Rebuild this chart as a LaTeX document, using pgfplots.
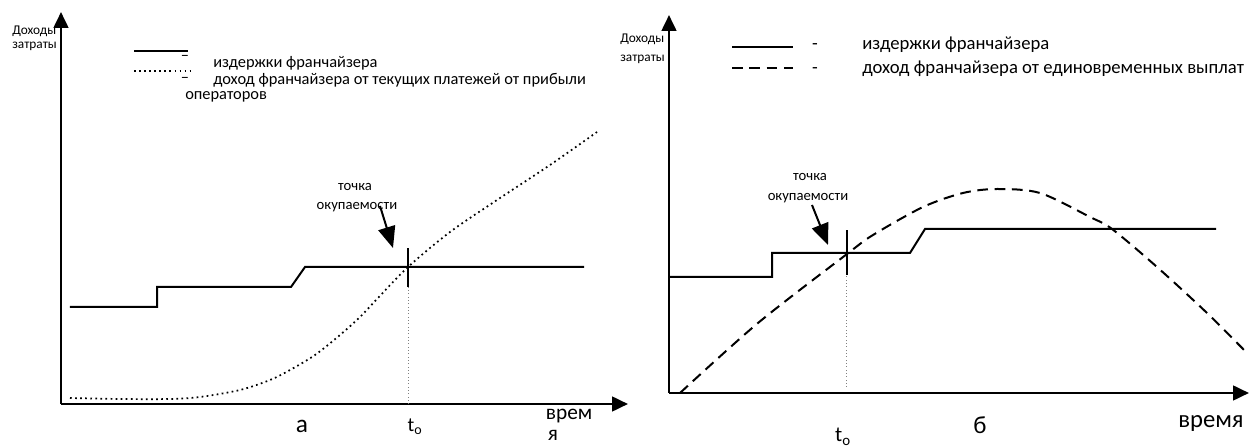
\documentclass[border=0pt]{standalone}
\usepackage{pgfplots}
\pgfplotsset{compat=1.18}
\usepackage{fontspec}
\setmainfont{Carlito}
\usetikzlibrary{arrows.meta}

\pgfplotsset{
  panel/.style={
    x=0.75pt, y=0.75pt, anchor=south west,
    axis lines=left, ticks=none, clip=false,
    enlargelimits=false,
    axis line style={line width=2pt, -{Triangle[length=12pt,width=11pt]}},
  },
  cost/.style={black, line width=1.5pt, no marks},
  guide/.style={gray, line width=0.5pt, dotted, no marks},
}
\tikzset{lt/.style={anchor=west, inner xsep=0pt}}
\newcommand{\fAx}{\fontsize{10}{12}\selectfont}
\newcommand{\fLbl}{\fontsize{11}{13}\selectfont}

\begin{document}
\begin{tikzpicture}
\useasboundingbox (0,0) rectangle (939.75pt,-336pt);

% ---- panel a ----
\begin{axis}[panel, at={(45.75pt,-303pt)}, xmin=0, xmax=567, ymin=0, ymax=392,
  font=\fontsize{12.3}{14}\selectfont]
\addplot[cost] coordinates {(9,97) (96,97) (96,117) (230,117) (244,137) (523,137)};
\addplot[black, line width=1.3pt, dash pattern=on 1.3pt off 2.5pt, smooth, no marks] coordinates {
  (9,6) (59,5) (109,5) (139,7) (179,14) (209,24) (229,34) (254,49) (279,69)
  (299,87) (317,106) (347,137) (389,172) (436,204) (489,239) (536,272)};
\addplot[guide] coordinates {(347,0) (347,117)};
\addplot[black, line width=1.5pt, no marks] coordinates {(347,117) (347,156)};
\draw[line width=1.5pt, -{Triangle[length=16pt,width=13pt]}] (319,198) -- (332,156);
\node[lt, font=\fAx] at (-49,373) {Доходы};
\node[lt, font=\fAx] at (-49,358) {затраты};
\draw[line width=1.5pt] (73,353) -- (127,353);
\node at (124,346) {–};
\node[lt] at (152,341) {издержки франчайзера};
\draw[line width=1.3pt, dash pattern=on 1.3pt off 2.5pt] (73,333) -- (129,333);
\node at (124,324) {–};
\node[lt] at (152,324) {доход франчайзера от текущих платежей от прибыли};
\node[lt] at (124,307) {операторов};
\node[font=\fLbl] at (294,217) {точка};
\node[font=\fLbl] at (296,197) {окупаемости};
\node[font=\fontsize{15}{18}\selectfont] at (354,-23) {t\textsubscript{o}};
\node[font=\fontsize{19}{23}\selectfont] at (241,-22) {а};
\node[font=\fontsize{16}{19}\selectfont] at (508,-12) {врем};
\node[font=\fontsize{16}{19}\selectfont, inner sep=1pt] at (492,-31) {я};
\end{axis}

% ---- panel б ----
\begin{axis}[panel, at={(501.75pt,-294.75pt)}, xmin=0, xmax=580, ymin=0, ymax=378,
  font=\fontsize{14}{17}\selectfont]
\addplot[cost] coordinates {(1,116) (103,116) (103,140) (241,140) (256,164) (547,164)};
\addplot[black, line width=1.5pt, dash pattern=on 8pt off 5pt, smooth, no marks] coordinates {
  (11,0) (89,70) (178,139) (204,158) (254,186) (294,200) (328,204) (371,200)
  (421,176) (443,164) (488,126) (538,80) (578,40)};
\addplot[guide] coordinates {(177,6) (177,150)};
\addplot[black, line width=1.5pt, no marks] coordinates {(178,118) (178,163)};
\draw[line width=1.5pt, -{Triangle[length=16pt,width=13pt]}] (143,188) -- (159,148);
\node[lt, font=\fAx] at (-49,354) {Доходы};
\node[lt, font=\fAx] at (-49,334) {затраты};
\draw[line width=1.5pt] (63,346) -- (124,346);
\node at (146,346) {-};
\node[lt] at (193,348) {издержки франчайзера};
\draw[line width=1.5pt, dash pattern=on 8pt off 5pt] (63,325) -- (124,325);
\node at (146,322) {-};
\node[lt] at (193,324) {доход франчайзера от единовременных выплат};
\node[font=\fLbl] at (141,216) {точка};
\node[font=\fLbl] at (139,195) {окупаемости};
\node[font=\fontsize{16}{19}\selectfont] at (174,-44) {t\textsubscript{o}};
\node[font=\fontsize{18.5}{22}\selectfont] at (311,-32) {б};
\node[font=\fontsize{18.5}{22}\selectfont] at (542,-30) {время};
\end{axis}
\end{tikzpicture}
\end{document}
